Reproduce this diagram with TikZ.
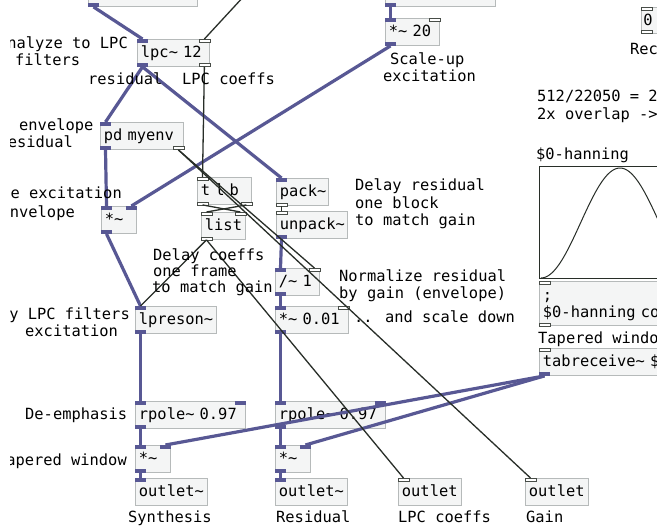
\documentclass[tikz,border=0pt]{standalone}
\usepackage{fontspec}
\newfontfamily\pdfamily{DejaVu Sans Mono}
\newcommand\PdFont{\pdfamily\fontsize{15.4pt}{17.5pt}\selectfont}
\newcommand\tld{\char`\~}
\usetikzlibrary{calc}
\definecolor{boxgray}{RGB}{182,186,186}
\definecolor{boxfill}{RGB}{244,245,245}
\definecolor{sigc}{RGB}{88,88,148}
\definecolor{ctlc}{RGB}{40,46,40}
\newcommand\SigIn[1]{\fill[sigc] (#1.north west) rectangle ++(11,4);}
\newcommand\SigInR[1]{\fill[sigc] ($(#1.north east)+(-11,0)$) rectangle ++(11,4);}
\newcommand\SigOut[1]{\fill[sigc] (#1.south west) rectangle ++(11,-4);}
\newcommand\CtlIn[1]{\draw[ctlport] (#1.north west) rectangle ++(11,3);}
\newcommand\CtlInR[1]{\draw[ctlport] ($(#1.north east)+(-11,0)$) rectangle ++(11,3);}
\newcommand\CtlOut[1]{\draw[ctlport] (#1.south west) rectangle ++(11,-3);}
\newcommand\CtlOutR[1]{\draw[ctlport] ($(#1.south east)+(-11,0)$) rectangle ++(11,-3);}
\newcommand\SigW[2]{\draw[sigwire] ($(#1.south west)+(5.5,0)$) -- ($(#2.north west)+(5.5,0)$);}
\newcommand\SigWR[2]{\draw[sigwire] ($(#1.south west)+(5.5,0)$) -- ($(#2.north east)+(-5.5,0)$);}
\newcommand\CtlW[2]{\draw[ctlwire] ($(#1.south west)+(5.5,0)$) -- ($(#2.north west)+(5.5,0)$);}
\newcommand\CtlWR[2]{\draw[ctlwire] ($(#1.south west)+(5.5,0)$) -- ($(#2.north east)+(-5.5,0)$);}
\newcommand\CtlRW[2]{\draw[ctlwire] ($(#1.south east)+(-5.5,0)$) -- ($(#2.north west)+(5.5,0)$);}
\newcommand\CtlRWR[2]{\draw[ctlwire] ($(#1.south east)+(-5.5,0)$) -- ($(#2.north east)+(-5.5,0)$);}
\begin{document}
\begin{tikzpicture}[x=1pt,y=-1pt,
  pdobj/.style={draw=boxgray, fill=boxfill, line width=0.9pt, anchor=north west,
    minimum height=27pt, inner xsep=3.5pt, inner ysep=0pt, font=\PdFont,
    align=left, text height=12.5pt, text depth=2.5pt},
  ctlport/.style={draw=ctlc!85, fill=white, line width=0.8pt},
  sigwire/.style={draw=sigc, line width=3.2pt},
  ctlwire/.style={draw=ctlc, line width=1.3pt},
  cmt/.style={font=\PdFont, inner sep=0pt, anchor=base west},
  cmtr/.style={font=\PdFont, inner sep=0pt, anchor=base east}]
\fill[white] (0,0) rectangle (657,527);
\path[use as bounding box] (0,0) rectangle (657,527);
\begin{scope}
\clip (10,-20) rectangle (700,560);
% ---------- boxes ----------
\node[pdobj, text width=102pt] (topA) at (88,-21) {};
\node[pdobj, text width=103pt] (topB) at (385,-21) {};
\node[pdobj, text width=65pt] (lpc) at (137,39) {lpc\tld{} 12};
\node[pdobj, text width=76pt] (myenv) at (100,122) {pd myenv};
\node[pdobj, text width=28pt] (mulA) at (101,206) {*\tld};
\node[pdobj, text width=47pt] (tlb) at (197,177) {t l b};
\node[pdobj, text width=37pt] (list) at (201,212) {list};
\node[pdobj, text width=45pt] (pack) at (276,178) {pack\tld};
\node[pdobj, text width=64pt] (unpack) at (276,211) {unpack\tld};
\node[pdobj, text width=37pt] (div) at (275,268) {/\tld{} 1};
\node[pdobj, text width=66pt] (mulK) at (275,306) {*\tld{} 0.01};
\node[pdobj, text width=74pt] (lpres) at (135,306) {lpreson\tld};
\node[pdobj, text width=103pt] (rpA) at (135,401) {rpole\tld{} 0.97};
\node[pdobj, text width=103pt] (rpB) at (275,401) {rpole\tld{} 0.97};
\node[pdobj, text width=28pt] (mulB) at (135,445) {*\tld};
\node[pdobj, text width=28pt] (mulC) at (275,445) {*\tld};
\node[pdobj, text width=65pt] (outA) at (135,478) {outlet\tld};
\node[pdobj, text width=65pt] (outB) at (275,478) {outlet\tld};
\node[pdobj, text width=56pt] (outC) at (398,478) {outlet};
\node[pdobj, text width=56pt] (outD) at (525,478) {outlet};
\node[pdobj, text width=47pt] (mulT) at (385,18) {*\tld{} 20};
\node[pdobj, text width=200pt] (tabr) at (539,348) {tabreceive\tld{} \$};
\node[pdobj, text width=200pt, minimum height=44pt, text height=19pt, text depth=25pt] (msg) at (539,281) {;\\\$0-hanning co};
\node[pdobj, text width=40pt, minimum height=26pt, inner xsep=2pt] (num) at (641,7) {0};
% graph
\draw[ctlc, line width=1pt, fill=white] (539,167) rectangle (720,278);
\draw[ctlc, line width=1pt] plot[domain=0:159, samples=100, smooth]
  ({541+\x}, {278-55*(1-cos(2.2785*\x))});
% ---------- ports ----------
\SigOut{topA} \SigOut{topB}
\SigIn{lpc} \CtlInR{lpc} \SigOut{lpc} \CtlOutR{lpc}
\SigIn{myenv} \SigOut{myenv} \CtlOutR{myenv}
\SigIn{mulA} \SigInR{mulA} \SigOut{mulA}
\CtlIn{tlb} \CtlOut{tlb} \CtlOutR{tlb}
\CtlIn{list} \CtlInR{list} \CtlOut{list}
\SigIn{pack} \CtlOut{pack}
\CtlIn{unpack} \SigOut{unpack}
\SigIn{div} \CtlInR{div} \SigOut{div}
\SigIn{mulK} \CtlInR{mulK} \SigOut{mulK}
\SigIn{lpres} \SigOut{lpres}
\SigIn{rpA} \SigInR{rpA} \SigOut{rpA}
\SigIn{rpB} \SigInR{rpB} \SigOut{rpB}
\SigIn{mulB} \SigInR{mulB} \SigOut{mulB}
\SigIn{mulC} \SigInR{mulC} \SigOut{mulC}
\SigIn{outA} \SigIn{outB} \CtlIn{outC} \CtlIn{outD}
\SigIn{mulT} \CtlInR{mulT} \SigOut{mulT}
\CtlIn{tabr} \SigOut{tabr}
\CtlIn{msg} \CtlOut{msg}
\CtlIn{num} \CtlOut{num}
% ---------- signal wires ----------
\SigW{topA}{lpc}
\SigW{topB}{mulT}
\SigW{lpc}{myenv}
\SigW{lpc}{pack}
\SigW{myenv}{mulA}
\SigWR{mulT}{mulA}
\SigW{mulA}{lpres}
\SigW{lpres}{rpA}
\SigW{rpA}{mulB}
\SigW{mulB}{outA}
\SigW{unpack}{div}
\SigW{div}{mulK}
\SigW{mulK}{rpB}
\SigW{rpB}{mulC}
\SigW{mulC}{outB}
\SigWR{tabr}{mulB}
\SigWR{tabr}{mulC}
% ---------- control wires ----------
\coordinate (src) at (245,-5);
\draw[ctlwire] (src) -- ($(lpc.north east)+(-5.5,0)$);
\CtlRW{lpc}{tlb}
\CtlRWR{myenv}{div}
\CtlRW{myenv}{outD}
\CtlWR{tlb}{list}
\CtlRW{tlb}{list}
\CtlW{list}{lpres}
\CtlW{list}{outC}
\CtlW{pack}{unpack}
% ---------- comments ----------
\node[cmtr] (c1) at (128,49) {Analyze to LPC};
\node[cmt] (c2) at (15,66) {filters};
\node[cmt] (c3) at (19,131) {envelope};
\node[cmtr] (c4) at (73,148) {residual};
\node[cmtr] (c5) at (122,198) {e excitation};
\node[cmtr] (c6) at (75,217) {envelope};
\node[cmtr] (c7) at (130,319) {by LPC filters};
\node[cmt] (c8) at (25,336) {excitation};
\node[cmt] (c9) at (25,419) {De-emphasis};
\node[cmtr] (c10) at (127,465) {Tapered window};
\node[cmt] (c11) at (88,85) {residual};
\node[cmt] (c12) at (182,85) {LPC coeffs};
\node[cmt] (c13) at (390,65) {Scale-up};
\node[cmt] (c14) at (383,82) {excitation};
\node[cmt] (c15) at (355,190.5) {Delay residual};
\node[cmt] (c16) at (355,208) {one block};
\node[cmt] (c17) at (355,225.5) {to match gain};
\node[cmt] (c18) at (153,260) {Delay coeffs};
\node[cmt] (c19) at (153,276) {one frame};
\node[cmt] (c20) at (152,292.5) {to match gain};
\node[cmt] (c21) at (339,281) {Normalize residual};
\node[cmt] (c22) at (339,298) {by gain (envelope)};
\node[cmt] (c23) at (354,322) {.. and scale down};
\node[cmt] (c24) at (537,102) {512/22050 = 2};
\node[cmt] (c25) at (537,120) {2x overlap ->};
\node[cmt] (c26) at (630,55) {Rec};
\node[cmt] (c27) at (536,160) {\$0-hanning};
\node[cmt] (c28) at (538,343) {Tapered window};
\node[cmt] (c29) at (128,522) {Synthesis};
\node[cmt] (c30) at (276,522) {Residual};
\node[cmt] (c31) at (398,522) {LPC coeffs};
\node[cmt] (c32) at (526,522) {Gain};
\end{scope}
\end{tikzpicture}
\end{document}
